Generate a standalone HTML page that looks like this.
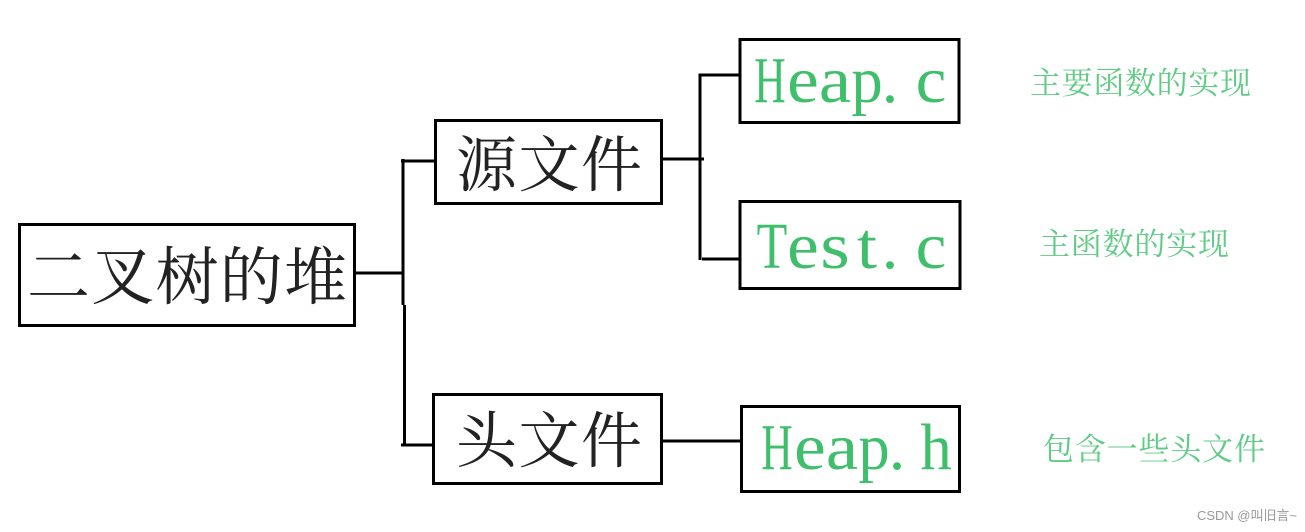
<!DOCTYPE html>
<html><head><meta charset="utf-8"><style>
html,body{margin:0;padding:0;background:#fff;width:1305px;height:532px;overflow:hidden}
svg{display:block}
.cj{font-family:"Liberation Serif","Noto Serif CJK SC",serif;fill:#222}
.la{font-family:"Liberation Sans","Noto Serif CJK SC",serif;fill:#5fcb85;font-size:31px}
.g text{font-family:"Liberation Serif",serif;fill:#3fbf6c;font-size:66px;text-anchor:middle}
rect{fill:#fff;stroke:#000;stroke-width:3}
line{stroke:#000;stroke-width:3}
</style></head><body>
<svg width="1305" height="532" viewBox="0 0 1305 532" xmlns="http://www.w3.org/2000/svg">
<line x1="355" y1="273" x2="403" y2="273"/>
<line x1="403" y1="159" x2="403" y2="305"/>
<line x1="404.5" y1="305" x2="404.5" y2="446"/>
<line x1="401" y1="161" x2="436" y2="161"/>
<line x1="401" y1="445" x2="434" y2="445"/>
<line x1="661" y1="159" x2="704" y2="159"/>
<line x1="700" y1="73.5" x2="700" y2="260"/>
<line x1="699" y1="75" x2="740" y2="75"/>
<line x1="702" y1="259" x2="740" y2="259"/>
<line x1="660" y1="441" x2="742" y2="441"/>
<rect x="19.5" y="224.5" width="335" height="101"/>
<rect x="435.5" y="120.5" width="226" height="83"/>
<rect x="433.5" y="394.5" width="228" height="89"/>
<rect x="740" y="39.5" width="219" height="83"/>
<rect x="740" y="201.5" width="220" height="87"/>
<rect x="741.5" y="406.5" width="218" height="85"/>
<text class="cj" x="27" y="299" font-size="63" textLength="320" lengthAdjust="spacing">二叉树的堆</text>
<text class="cj" x="456" y="186" font-size="61" textLength="186" lengthAdjust="spacing">源文件</text>
<text class="cj" x="456" y="462" font-size="61" textLength="186" lengthAdjust="spacing">头文件</text>
<g class="g">
<text transform="translate(770,102) scale(.66,1)">H</text>
<text transform="translate(803,102) scale(1.08,1)">e</text>
<text transform="translate(835,102) scale(1.1,1)">a</text>
<text transform="translate(867,102) scale(.95,1)">p</text>
<text transform="translate(890,102)">.</text>
<text transform="translate(931,102) scale(1.05,1)">c</text>
<text transform="translate(772,268) scale(.76,1)">T</text>
<text transform="translate(803,268) scale(1.08,1)">e</text>
<text transform="translate(835,268) scale(1.15,1)">s</text>
<text transform="translate(867,268) scale(1.1,1)">t</text>
<text transform="translate(890,268)">.</text>
<text transform="translate(931,268) scale(1.05,1)">c</text>
<text transform="translate(777,469) scale(.66,1)">H</text>
<text transform="translate(810,469) scale(1.08,1)">e</text>
<text transform="translate(842,469) scale(1.1,1)">a</text>
<text transform="translate(874,469) scale(.95,1)">p</text>
<text transform="translate(897,469)">.</text>
<text transform="translate(936,469) scale(.95,1)">h</text>
</g>
<text class="la" x="1030" y="94" textLength="221" lengthAdjust="spacing">主要函数的实现</text>
<text class="la" x="1039" y="255" textLength="190" lengthAdjust="spacing">主函数的实现</text>
<text class="la" x="1043" y="460" textLength="222" lengthAdjust="spacing">包含一些头文件</text>
<text x="1197" y="520" font-size="13" fill="#999" font-family="'Liberation Sans','Noto Sans CJK SC',sans-serif" textLength="100" lengthAdjust="spacing">CSDN @叫旧言~</text>
</svg>
</body></html>
